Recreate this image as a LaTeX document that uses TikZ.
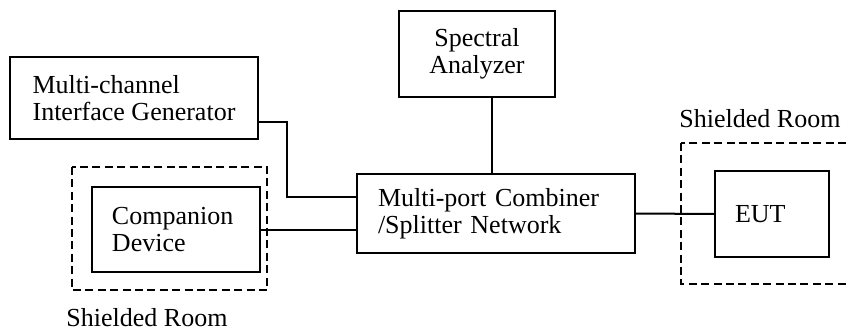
\documentclass[tikz,border=0pt]{standalone}
\usepackage{fontspec}
\setmainfont{Liberation Serif}
\usetikzlibrary{positioning}
\begin{document}
\begin{tikzpicture}[x=0.5pt,y=-0.5pt,
  box/.style={draw,black,line width=1pt,inner sep=0pt,align=left,font=\fontsize{13}{13.5}\selectfont},
  room/.style={draw,black,line width=1pt,dash pattern=on 4pt off 2.2pt},
  link/.style={draw,black,line width=1pt},
  lbl/.style={font=\fontsize{13}{13.5}\selectfont}]
\useasboundingbox (0,0) rectangle (847,332);
% boxes
\node[box,minimum width=124pt,minimum height=41pt] (gen) at (134,98) {Multi-channel\\Interface Generator};
\node[box,minimum width=78pt,minimum height=43pt,align=center] (spec) at (477,54) {Spectral\\Analyzer};
\node[box,minimum width=84pt,minimum height=42.5pt,text width=64pt] (comp) at (176,229.5) {Companion\\Device};
\node[box,minimum width=139pt,minimum height=39.5pt,text width=118pt] (comb) at (496,213.5) {Multi-port Combiner\\/Splitter Network};
\node[box,minimum width=57pt,minimum height=43pt,text width=37pt] (eut) at (772,214) {EUT};
% shielded rooms
\draw[room] (72,167) rectangle (267,290);
\draw[room] (681,143) rectangle (852,284);
\node[lbl] (roomA) at (147,318) {Shielded Room};
\node[lbl] (roomB) at (760,119) {Shielded Room};
% connections
\coordinate (bend) at (287,197);
\draw[link] ([yshift=-12pt]gen.east) -| (bend) -- (bend -| comb.west);
\draw[link] ([xshift=-2pt]comb.north) -- ([xshift=-2pt]comb.north |- spec.south);
\draw[link] (comp.east) -- (comp.east -| comb.west);
\draw[link] (comb.east) -- (eut.west);
\end{tikzpicture}
\end{document}
